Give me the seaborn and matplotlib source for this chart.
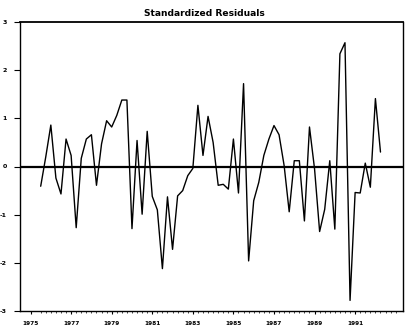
import numpy as np
import pandas as pd
import matplotlib
matplotlib.use("Agg")
import matplotlib.pyplot as plt
from matplotlib.ticker import FixedLocator
import seaborn as sns

# Quarterly standardized residuals, 1975Q3 onward
start_year = 1975.5
residuals = [
    -0.41, 0.20, 0.86, -0.24, -0.57, 0.57, 0.23, -1.27,
    0.17, 0.57, 0.66, -0.39, 0.47, 0.95, 0.82, 1.06,
    1.38, 1.38, -1.29, 0.54, -0.99, 0.73, -0.62, -0.90,
    -2.12, -0.63, -1.72, -0.61, -0.50, -0.19, -0.04, 1.27,
    0.23, 1.04, 0.50, -0.39, -0.37, -0.47, 0.57, -0.55,
    1.72, -1.96, -0.71, -0.33, 0.23, 0.57, 0.85, 0.66,
    0.02, -0.94, 0.12, 0.12, -1.13, 0.82, -0.05, -1.35,
    -0.89, 0.12, -1.30, 2.34, 2.57, -2.78, -0.54, -0.55,
    0.07, -0.43, 1.41, 0.30,
]
year_ticks = [1975, 1977, 1979, 1981, 1983, 1985, 1987, 1989, 1991]
y_ticks = [-3, -2, -1, 0, 1, 2, 3]
title = "Standardized Residuals"

t = start_year + np.arange(len(residuals)) / 4.0
df = pd.DataFrame({"time": t, "resid": residuals})

sns.set_theme(style="ticks")
plt.rcParams["font.family"] = ["DejaVu Sans"]

fig = plt.figure(figsize=(4.05, 3.28), dpi=100)
ax = fig.add_axes([20 / 405, 17 / 328, 383 / 405, 289 / 328])

sns.lineplot(data=df, x="time", y="resid", color="black", linewidth=1.0, ax=ax)
ax.axhline(0, color="black", linewidth=1.6, zorder=1)

ax.set_xlim(1974.48, 1993.36)
ax.set_ylim(-3, 3)
ax.set_xlabel("")
ax.set_ylabel("")

ax.xaxis.set_major_locator(FixedLocator(year_ticks))
ax.set_xticklabels([str(y) for y in year_ticks])
ax.xaxis.set_minor_locator(FixedLocator(np.arange(start_year, 1993.01, 0.25)))
ax.yaxis.set_major_locator(FixedLocator(y_ticks))
ax.set_yticklabels([str(v) for v in y_ticks])

ax.tick_params(axis="x", which="major", direction="out", length=2.5, width=0.8,
               labelsize=4.2, pad=5, colors="black")
ax.tick_params(axis="x", which="minor", direction="out", length=1.5, width=0.6)
ax.tick_params(axis="y", which="major", direction="out", length=4.5, width=0.8,
               labelsize=4.5, pad=5, colors="black")
for lab in ax.get_xticklabels() + ax.get_yticklabels():
    lab.set_fontweight("bold")

for side in ["left", "right", "top", "bottom"]:
    ax.spines[side].set_visible(True)
    ax.spines[side].set_color("black")
    ax.spines[side].set_linewidth(1.0)
ax.spines["top"].set_linewidth(1.3)

fig.text(204 / 405, 1 - 13 / 328, title, ha="center", va="center",
         fontsize=6.6, fontweight="bold", color="black")

fig.savefig("out.png", dpi=100)
